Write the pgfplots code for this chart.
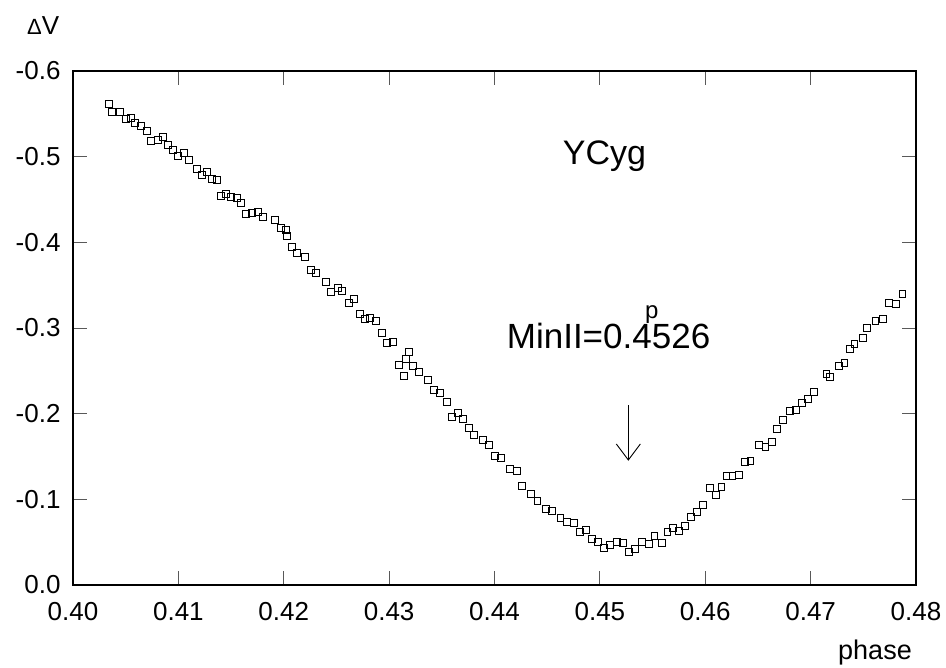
\documentclass[border=0pt]{standalone}
\usepackage{pgfplots}
\pgfplotsset{compat=1.18}
\usepackage{fontspec}
\setmainfont{Liberation Sans}
\begin{document}
\begin{tikzpicture}[x=1pt,y=1pt]
\useasboundingbox (0,0) rectangle (946,668);
\begin{axis}[
  at={(73pt,83pt)}, anchor=south west,
  scale only axis, width=843pt, height=514pt,
  xmin=0.40, xmax=0.48, ymin=-0.6, ymax=0,
  y dir=reverse,
  axis line style={black, line width=1.2pt},
  xtick={0.40,0.41,0.42,0.43,0.44,0.45,0.46,0.47,0.48},
  xticklabels={0.40,0.41,0.42,0.43,0.44,0.45,0.46,0.47,0.48},
  ytick={-0.6,-0.5,-0.4,-0.3,-0.2,-0.1,0},
  yticklabels={-0.6,-0.5,-0.4,-0.3,-0.2,-0.1,0.0},
  tick align=inside, major tick length=14pt,
  tick style={gray!70!black, line width=0.8pt},
  ticklabel style={font=\fontsize{26}{30}\selectfont},
  xticklabel style={yshift=-14pt},
  yticklabel style={xshift=-9pt},
  clip=false,
]
\addplot[only marks, mark=square, mark size=3.4pt, mark options={black, line width=1pt, fill=none}] coordinates {
(0.40344,-0.5615) (0.40367,-0.5518) (0.40446,-0.5518) (0.40500,-0.5436) (0.40550,-0.5448)
(0.40591,-0.5389) (0.40645,-0.5358) (0.40699,-0.5303) (0.40740,-0.5183) (0.40804,-0.5194)
(0.40857,-0.5233) (0.40904,-0.5139) (0.40952,-0.5078) (0.40999,-0.5008) (0.41053,-0.5046)
(0.41103,-0.4961) (0.41174,-0.4856) (0.41227,-0.4786) (0.41271,-0.4817) (0.41316,-0.4739)
(0.41363,-0.4727) (0.41404,-0.4544) (0.41452,-0.4564) (0.41499,-0.4533) (0.41553,-0.4514)
(0.41597,-0.4455) (0.41644,-0.4327) (0.41701,-0.4346) (0.41752,-0.4354) (0.41800,-0.4299)
(0.41917,-0.4261) (0.41971,-0.4171) (0.42018,-0.4144) (0.42028,-0.4077) (0.42078,-0.3945)
(0.42128,-0.3879) (0.42204,-0.3832) (0.42258,-0.3677) (0.42303,-0.3638) (0.42398,-0.3533)
(0.42448,-0.3417) (0.42517,-0.3463) (0.42549,-0.3435) (0.42621,-0.3295) (0.42669,-0.3342)
(0.42723,-0.3160) (0.42770,-0.3105) (0.42821,-0.3113) (0.42875,-0.3082) (0.42929,-0.2938)
(0.42982,-0.2828) (0.43036,-0.2840) (0.43096,-0.2568) (0.43143,-0.2440) (0.43159,-0.2638)
(0.43191,-0.2720) (0.43229,-0.2553) (0.43286,-0.2486) (0.43371,-0.2389) (0.43425,-0.2276)
(0.43482,-0.2241) (0.43546,-0.2133) (0.43599,-0.1964) (0.43653,-0.2011) (0.43703,-0.1938)
(0.43760,-0.1829) (0.43807,-0.1751) (0.43893,-0.1693) (0.43950,-0.1634) (0.44004,-0.1509)
(0.44058,-0.1479) (0.44149,-0.1358) (0.44210,-0.1331) (0.44263,-0.1156) (0.44348,-0.1066)
(0.44409,-0.0981) (0.44485,-0.0887) (0.44545,-0.0867) (0.44627,-0.0782) (0.44687,-0.0739)
(0.44756,-0.0727) (0.44813,-0.0619) (0.44870,-0.0645) (0.44927,-0.0537) (0.44984,-0.0498)
(0.45038,-0.0428) (0.45095,-0.0467) (0.45164,-0.0502) (0.45218,-0.0490) (0.45275,-0.0385)
(0.45332,-0.0420) (0.45401,-0.0498) (0.45465,-0.0475) (0.45519,-0.0575) (0.45588,-0.0487)
(0.45642,-0.0615) (0.45695,-0.0669) (0.45752,-0.0630) (0.45806,-0.0689) (0.45861,-0.0797)
(0.45923,-0.0849) (0.45980,-0.0934) (0.46044,-0.1129) (0.46101,-0.1051) (0.46155,-0.1140)
(0.46202,-0.1276) (0.46259,-0.1276) (0.46322,-0.1287) (0.46376,-0.1432) (0.46430,-0.1444)
(0.46511,-0.1638) (0.46572,-0.1614) (0.46632,-0.1666) (0.46682,-0.1817) (0.46739,-0.1929)
(0.46803,-0.2035) (0.46860,-0.2046) (0.46919,-0.2128) (0.46973,-0.2168) (0.47033,-0.2256)
(0.47151,-0.2459) (0.47185,-0.2431) (0.47268,-0.2553) (0.47321,-0.2595) (0.47375,-0.2758)
(0.47416,-0.2810) (0.47498,-0.2887) (0.47536,-0.2996) (0.47616,-0.3082) (0.47688,-0.3108)
(0.47745,-0.3288) (0.47808,-0.3280) (0.47872,-0.3400)
};
\draw[black, line width=0.9pt] (axis cs:0.4527,-0.2101) -- (axis cs:0.4527,-0.1459);
\draw[black, line width=0.9pt] (axis cs:0.45156,-0.1646) -- (axis cs:0.4527,-0.1459) -- (axis cs:0.45384,-0.1646);
\end{axis}
\node[anchor=base west, inner sep=0pt, font=\fontsize{34}{40}\selectfont] at (562.7,503) {YCyg};
\node[anchor=base west, inner sep=0pt, font=\fontsize{35}{40}\selectfont] at (506.7,319.7) {MinII=0.4526};
\node[anchor=base west, inner sep=0pt, font=\fontsize{24}{28}\selectfont] at (645,349) {p};
\node[anchor=base, inner sep=0pt, font=\fontsize{27}{32}\selectfont] at (875,8) {phase};
\node[anchor=base west, inner sep=0pt, font=\fontsize{26}{30}\selectfont] at (27,633) {{\fontsize{22}{26}\selectfont Δ}V};
\end{tikzpicture}
\end{document}
